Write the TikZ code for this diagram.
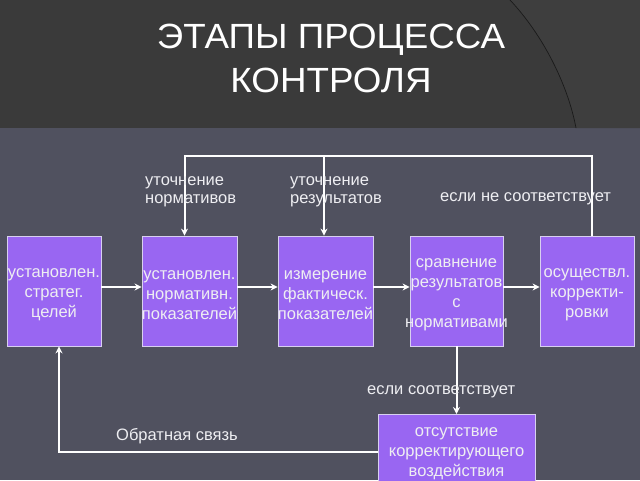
\documentclass[tikz,border=0pt]{standalone}
\usepackage{fontspec}
\setmainfont{Liberation Sans}
\usetikzlibrary{arrows.meta}
\definecolor{hdr}{HTML}{3A3A3A}
\definecolor{hdr2}{HTML}{3E3E3E}
\definecolor{body}{HTML}{50515F}
\definecolor{boxfill}{HTML}{9966F2}
\definecolor{boxline}{HTML}{D8D0F0}
\definecolor{txt}{HTML}{EEEEF2}
\tikzset{
  stagebox/.style={draw=boxline, line width=0.8pt, fill=boxfill, inner sep=0pt,
    minimum height=110pt},
  stagetext/.style={text=txt, font=\fontsize{16.5}{20}\selectfont, align=center, inner sep=1pt},
  conn/.style={draw=white, line width=2pt, -{Stealth[length=7pt,width=7pt]}},
  lbl/.style={text=txt, font=\fontsize{16.5}{18.5}\selectfont, align=left, inner sep=0pt},
  ttl/.style={text=white, font=\fontsize{35}{35}\selectfont, xscale=1.05, anchor=base}
}
\begin{document}
\begin{tikzpicture}[x=1pt,y=-1pt]
\useasboundingbox (0,0) rectangle (640,480);
\clip (0,0) rectangle (640,480);
\fill[body] (0,0) rectangle (640,480);
\fill[hdr] (0,0) rectangle (640,128);
\fill[hdr2] (510,0) .. controls (543,35) and (568,85) .. (576,128) -- (640,128) -- (640,0) -- cycle;
\draw[black!55!hdr, line width=0.7pt] (510,0) .. controls (543,35) and (568,85) .. (576,128);
\node[ttl] (t1) at (331,48) {ЭТАПЫ ПРОЦЕССА};
\node[ttl] (t2) at (331,92) {КОНТРОЛЯ};

\node[stagebox, minimum width=94pt] (b1) at (54,291) {};
\node[stagebox, minimum width=95pt] (b2) at (189.5,291) {};
\node[stagebox, minimum width=95pt] (b3) at (325.5,291) {};
\node[stagebox, minimum width=93pt] (b4) at (456.5,291) {};
\node[stagebox, minimum width=94pt] (b5) at (587,291) {};
\node[stagetext] (b1t) at ([yshift=-4pt]b1.center) {установлен.\\стратег.\\целей};
\node[stagetext] (b2t) at ([yshift=-4pt]b2.center) {установлен.\\нормативн.\\показателей};
\node[stagetext] (b3t) at ([yshift=-4pt]b3.center) {измерение\\фактическ.\\показателей};
\node[stagetext] (b4t) at ([yshift=-4pt]b4.center) {сравнение\\результатов\\с\\нормативами};
\node[stagetext] (b5t) at ([yshift=-4pt]b5.center) {осуществл.\\корректи-\\ровки};
\node[stagebox, stagetext, minimum width=157pt, minimum height=78pt, anchor=north, inner sep=1pt] (b6) at (456.5,414) {отсутствие\\корректирующего\\воздействия};

\draw[conn] (b1.east |- 0,287) -- (b2.west |- 0,287);
\draw[conn] (b2.east |- 0,287) -- (b3.west |- 0,287);
\draw[conn] (b3.east |- 0,287) -- (b4.west |- 0,287);
\draw[conn] (b4.east |- 0,287) -- (b5.west |- 0,287);

\coordinate (topy) at (0,156);
\coordinate (n2) at ([xshift=-5pt]b2.north);
\coordinate (n3) at ([xshift=-1.5pt]b3.north);
\coordinate (n5) at ([xshift=5pt]b5.north);
\draw[conn] (n5) -- (n5 |- topy) -| (n2);
\draw[conn] (n3 |- topy) -- (n3);

\draw[conn] (b4.south) -- (b6.north);
\coordinate (fb) at (0,452);
\coordinate (s1) at ([xshift=5pt]b1.south);
\draw[conn] (b6.west |- fb) -| (s1);

\node[lbl, anchor=west] (l1) at (145,192) {уточнение\\нормативов};
\node[lbl, anchor=west] (l2) at (290,192) {уточнение\\результатов};
\node[lbl, anchor=west] (l3) at (440,199) {если не соответствует};
\node[lbl, anchor=west] (l4) at (367,392) {если соответствует};
\node[lbl, anchor=west] (l5) at (116,436) {Обратная связь};
\end{tikzpicture}
\end{document}
